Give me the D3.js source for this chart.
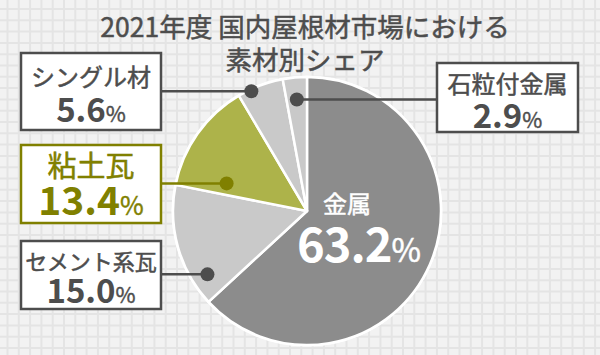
<!DOCTYPE html>
<html>
<head>
<meta charset="utf-8">
<script src="https://cdn.jsdelivr.net/npm/d3@7"></script>
<style>
  body { margin: 0; background: #f2f2f2; }
  svg { display: block; font-family: "Noto Sans CJK JP", "Noto Sans", sans-serif; }
</style>
</head>
<body>
<div id="chart"></div>
<script>
// Share of roofing materials, 2021 (clockwise from 12 o'clock)
let materials = ["金属", "セメント系瓦", "粘土瓦", "シングル材", "石粒付金属"];
let shares = [63.2, 15.0, 13.4, 5.6, 2.9];
let titleLines = ["2021年度 国内屋根材市場における", "素材別シェア"];

let width = 600, height = 355;
let cx = 307, cy = 211, radius = 134;

let svg = d3.select("#chart").append("svg")
    .attr("width", width)
    .attr("height", height);

// Background grid
svg.append("rect").attr("width", width).attr("height", height).attr("fill", "#f2f2f2");
let step = 11.3;
svg.append("g")
    .selectAll("line.v")
    .data(d3.range(7.5, width, step))
    .join("line")
    .attr("x1", d => d).attr("x2", d => d)
    .attr("y1", 0).attr("y2", height)
    .attr("stroke", "#e4e4e4").attr("stroke-width", 2);
svg.append("g")
    .selectAll("line.h")
    .data(d3.range(9, height, step))
    .join("line")
    .attr("y1", d => d).attr("y2", d => d)
    .attr("x1", 0).attr("x2", width)
    .attr("stroke", "#e4e4e4").attr("stroke-width", 2);

// Title (thin stroke thickens the regular weight a bit)
svg.append("g")
    .selectAll("text")
    .data(titleLines)
    .join("text")
    .attr("x", 305)
    .attr("y", (d, i) => 37 + i * 33)
    .attr("text-anchor", "middle")
    .attr("font-size", 26.5)
    .attr("fill", "#4d4d4d")
    .attr("stroke", "#4d4d4d").attr("stroke-width", 0.5)
    .text(d => d);

// Pie
let colors = ["#8c8c8c", "#c9c9c9", "#adb34a", "#c9c9c9", "#c9c9c9"];
let pie = d3.pie().sort(null).value(d => d.value);
let arcs = pie(materials.map((m, i) => ({name: m, value: shares[i]})));
let arc = d3.arc().innerRadius(0).outerRadius(radius);

let pieG = svg.append("g").attr("transform", `translate(${cx},${cy})`);
pieG.append("circle").attr("r", radius + 1.5).attr("fill", "#fff");
pieG.selectAll("path")
    .data(arcs)
    .join("path")
    .attr("d", arc)
    .attr("fill", (d, i) => colors[i])
    .attr("stroke", "#fff")
    .attr("stroke-width", 2.5)
    .attr("stroke-linejoin", "round");

// Label layout: box, text sizes, and where the leader dot sits in its slice
let layout = [
    null,
    {box: [21, 241, 140, 68], nameY: 270, valY: 303, nameSize: 22, valSize: 33, t: 0.19, r: 118, color: "#4d4d4d", side: "left"},
    {box: [21, 145, 140, 78], nameY: 177, valY: 215, nameSize: 29, valSize: 39, t: 0.16, r: 85, color: "#808000", side: "left"},
    {box: [21, 53, 140, 77], nameY: 86, valY: 122, nameSize: 24, valSize: 33, t: 0.28, r: 132, color: "#4d4d4d", side: "left"},
    {box: [437, 63, 141, 69], nameY: 93, valY: 128, nameSize: 24, valSize: 33, t: 0.5, r: 112, color: "#4d4d4d", side: "right"}
];

function dotPos(a, l) {
    let ang = a.startAngle + (a.endAngle - a.startAngle) * l.t;
    return [cx + l.r * Math.sin(ang), cy - l.r * Math.cos(ang)];
}

arcs.forEach((a, i) => {
    let l = layout[i];
    if (!l) return;
    let [bx, by, bw, bh] = l.box;
    let [dx, dy] = dotPos(a, l);
    let g = svg.append("g");
    let edgeX = l.side === "left" ? bx + bw : bx;
    g.append("line")
        .attr("x1", edgeX).attr("x2", dx)
        .attr("y1", dy).attr("y2", dy)
        .attr("stroke", l.color).attr("stroke-width", 2.5);
    g.append("circle")
        .attr("cx", dx).attr("cy", dy).attr("r", 7)
        .attr("fill", l.color);
    g.append("rect")
        .attr("x", bx).attr("y", by).attr("width", bw).attr("height", bh)
        .attr("fill", "#fff")
        .attr("stroke", l.color).attr("stroke-width", 2.5);
    g.append("text")
        .attr("x", bx + bw / 2).attr("y", l.nameY)
        .attr("text-anchor", "middle")
        .attr("font-size", l.nameSize)
        .attr("fill", l.color)
        .attr("stroke", l.color).attr("stroke-width", 0.5)
        .text(a.data.name);
    let vt = g.append("text")
        .attr("x", bx + bw / 2).attr("y", l.valY)
        .attr("text-anchor", "middle")
        .attr("fill", l.color);
    vt.append("tspan").attr("font-size", l.valSize).attr("font-weight", "bold")
        .text(a.data.value.toFixed(1));
    vt.append("tspan").attr("font-size", l.valSize * 0.66)
        .attr("stroke", l.color).attr("stroke-width", 0.4)
        .text("%");
});

// Large slice label inside
let big = arcs[0];
svg.append("text")
    .attr("x", 347).attr("y", 213)
    .attr("text-anchor", "middle")
    .attr("font-size", 24)
    .attr("fill", "#fff")
    .attr("stroke", "#fff").attr("stroke-width", 0.5)
    .text(big.data.name);
let bt = svg.append("text")
    .attr("x", 359).attr("y", 262)
    .attr("text-anchor", "middle")
    .attr("fill", "#fff");
bt.append("tspan").attr("font-size", 47).attr("font-weight", "bold")
    .attr("letter-spacing", -1).text(big.data.value.toFixed(1));
bt.append("tspan").attr("font-size", 32)
    .attr("stroke", "#fff").attr("stroke-width", 0.5).text("%");
</script>
</body>
</html>
